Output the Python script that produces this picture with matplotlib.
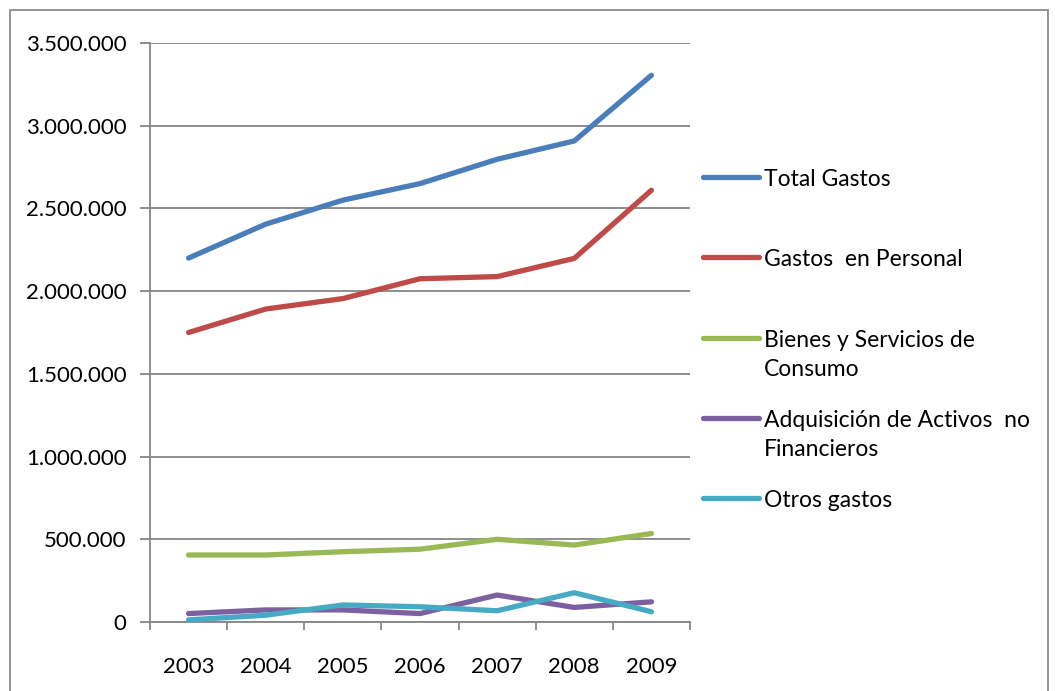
import matplotlib
matplotlib.use("Agg")
import matplotlib.pyplot as plt
from matplotlib.lines import Line2D
from matplotlib.patches import Rectangle
from matplotlib.ticker import FuncFormatter, FixedLocator

years = ["2003", "2004", "2005", "2006", "2007", "2008", "2009"]
total_gastos = [2200000, 2405000, 2550000, 2650000, 2797000, 2908000, 3305000]
gastos_personal = [1750000, 1892000, 1955000, 2075000, 2088000, 2198000, 2610000]
bienes_servicios = [405000, 405000, 425000, 440000, 500000, 465000, 535000]
adquisicion_activos = [51000, 73000, 73000, 51000, 163000, 88000, 122000]
otros_gastos = [13000, 41000, 103000, 92000, 68000, 177000, 62000]

series = [
    ("Total Gastos", total_gastos, "#4A7EBB"),
    ("Gastos  en Personal", gastos_personal, "#BE4B48"),
    ("Bienes y Servicios de\nConsumo", bienes_servicios, "#98B954"),
    ("Adquisición de Activos  no\nFinancieros", adquisicion_activos, "#7D60A0"),
    ("Otros gastos", otros_gastos, "#46AAC5"),
]

plt.rcParams['font.family'] = ['Lato', 'DejaVu Sans']

W, H = 1055, 691
fig = plt.figure(figsize=(W / 100, H / 100), dpi=100)
fig.patches.append(Rectangle((10 / W, -0.01), 1038 / W, (H - 10) / H + 0.01,
                             transform=fig.transFigure, fill=False,
                             edgecolor="#8C8C8C", linewidth=1.3))

ax = fig.add_axes([150 / W, (H - 622) / H, 540 / W, 579 / H])
x = list(range(len(years)))
for label, vals, color in series:
    ax.plot(x, vals, color=color, linewidth=3.8, solid_capstyle="round",
            solid_joinstyle="round", zorder=3)

ax.set_xlim(-0.5, len(years) - 0.5)
ax.set_ylim(0, 3500000)
ax.set_yticks([i * 500000 for i in range(8)])
ax.yaxis.set_major_formatter(FuncFormatter(
    lambda v, p: "0" if v == 0 else f"{int(v):,}".replace(",", ".")))
ax.grid(axis="y", color="#868686", linewidth=1.3, zorder=1)
ax.set_axisbelow(True)

ax.set_xticks(x)
ax.set_xticklabels(years)
ax.xaxis.set_minor_locator(FixedLocator([i - 0.5 for i in range(len(years) + 1)]))
ax.tick_params(axis="x", which="major", length=0, pad=25, labelsize=16)
ax.tick_params(axis="x", which="minor", length=6, width=1.3, color="#868686")
ax.tick_params(axis="y", length=7, width=1.3, color="#868686", pad=10, labelsize=16)

for s in ["top", "right"]:
    ax.spines[s].set_visible(False)
for s in ["left", "bottom"]:
    ax.spines[s].set_color("#868686")
    ax.spines[s].set_linewidth(1.3)

# legend
ys = [177, 257, 338, 418, 498]
for (label, vals, color), yy in zip(series, ys):
    fy = (H - yy) / H
    fig.add_artist(Line2D([703 / W, 759 / W], [fy, fy], color=color,
                          linewidth=3.8, solid_capstyle="round",
                          transform=fig.transFigure))
    fig.text(764 / W, fy + 0.0116, label, fontsize=16.5, va="top", ha="left",
             linespacing=1.5)

fig.savefig("out.png", dpi=100)
